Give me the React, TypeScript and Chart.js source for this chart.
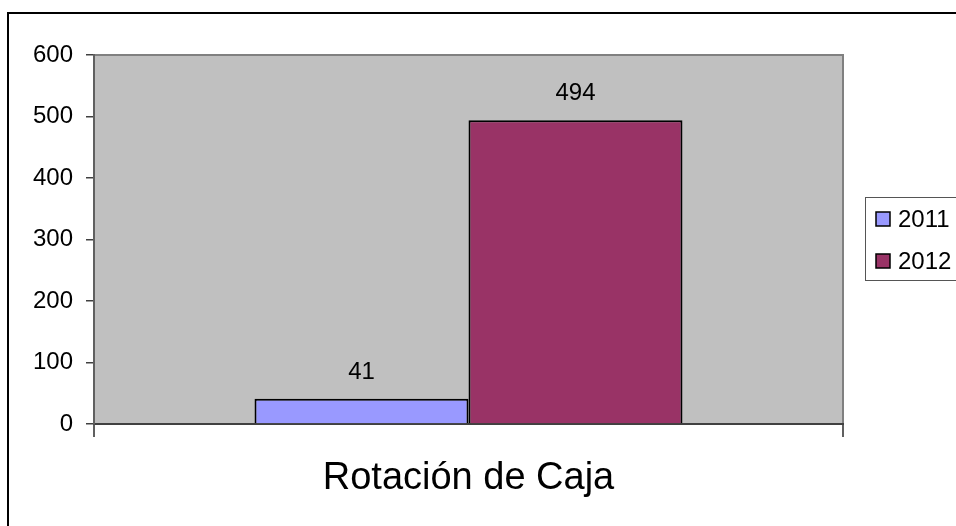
import React, { useEffect, useRef } from "react";
import { Chart, registerables } from "chart.js";

Chart.register(...registerables);

const categories = ["Rotación de Caja"];
const seriesNames = ["2011", "2012"];
const values2011 = [41];
const values2012 = [494];
const seriesColors = ["#9999FF", "#993366"];
const yMin = 0;
const yMax = 600;
const yStep = 100;

const FONT = "'Liberation Sans', Arial, sans-serif";

const decorPlugin = {
  id: "decor",
  beforeDraw(chart: any) {
    const ctx = chart.ctx;
    const a = chart.chartArea;
    ctx.save();
    ctx.fillStyle = "#ffffff";
    ctx.fillRect(0, 0, chart.width, chart.height);
    // outer frame
    ctx.strokeStyle = "#000000";
    ctx.lineWidth = 2;
    ctx.strokeRect(8, 13, 1200, 1200);
    // plot area
    ctx.fillStyle = "#C0C0C0";
    ctx.fillRect(a.left, a.top, a.right - a.left, a.bottom - a.top);
    ctx.strokeStyle = "#808080";
    ctx.lineWidth = 2;
    ctx.strokeRect(a.left, a.top, a.right - a.left, a.bottom - a.top);
    ctx.restore();
  },
  afterDatasetsDraw(chart: any) {
    const ctx = chart.ctx;
    ctx.save();
    ctx.font = `24px ${FONT}`;
    ctx.fillStyle = "#000000";
    ctx.textAlign = "center";
    ctx.textBaseline = "alphabetic";
    chart.data.datasets.forEach((ds: any, i: number) => {
      const meta = chart.getDatasetMeta(i);
      meta.data.forEach((bar: any, j: number) => {
        ctx.fillText(String(ds.data[j]), bar.x, bar.y - 20);
      });
    });
    // legend
    const lx = 865;
    const ly = 197;
    ctx.strokeStyle = "#555555";
    ctx.lineWidth = 1;
    ctx.strokeRect(lx + 0.5, ly + 0.5, 200, 83);
    ctx.textAlign = "left";
    ctx.textBaseline = "middle";
    chart.data.datasets.forEach((ds: any, i: number) => {
      const cy = 219 + i * 42;
      ctx.fillStyle = ds.backgroundColor;
      ctx.fillRect(876, cy - 7, 14, 14);
      ctx.strokeStyle = "#000000";
      ctx.lineWidth = 1.5;
      ctx.strokeRect(876, cy - 7, 14, 14);
      ctx.fillStyle = "#000000";
      ctx.fillText(ds.label, 898, cy + 1);
    });
    ctx.restore();
  },
};

function App() {
  const ref = useRef<HTMLCanvasElement | null>(null);
  useEffect(() => {
    if (!ref.current) return;
    const chart = new Chart(ref.current, {
      type: "bar",
      data: {
        labels: categories,
        datasets: [
          {
            label: seriesNames[0],
            data: values2011,
            backgroundColor: seriesColors[0],
            borderColor: "#000000",
            borderWidth: 2,
            categoryPercentage: 0.5714,
            barPercentage: 1,
          },
          {
            label: seriesNames[1],
            data: values2012,
            backgroundColor: seriesColors[1],
            borderColor: "#000000",
            borderWidth: 2,
            categoryPercentage: 0.5714,
            barPercentage: 1,
          },
        ],
      },
      options: {
        responsive: false,
        animation: false,
        layout: { padding: { left: 0, top: 55, right: 113, bottom: 0 } },
        plugins: {
          legend: { display: false },
          tooltip: { enabled: false },
        },
        scales: {
          x: {
            offset: true,
            grid: {
              display: true,
              offset: true,
              drawOnChartArea: false,
              drawTicks: true,
              tickLength: 13,
              color: "#606060",
              lineWidth: 2,
            },
            border: { display: true, color: "#404040", width: 2 },
            ticks: {
              color: "#000000",
              font: { family: FONT, size: 38 },
              padding: 19,
              maxRotation: 0,
            },
            afterFit: (s: any) => {
              s.height = 102;
            },
          },
          y: {
            min: yMin,
            max: yMax,
            grid: {
              display: true,
              drawOnChartArea: false,
              drawTicks: true,
              tickLength: 8,
              color: "#404040",
              lineWidth: 1.5,
            },
            border: { display: true, color: "#606060", width: 2 },
            ticks: {
              stepSize: yStep,
              color: "#000000",
              font: { family: FONT, size: 24 },
              padding: 13,
            },
            afterFit: (s: any) => {
              s.width = 94;
            },
          },
        },
      },
      plugins: [decorPlugin],
    });
    return () => chart.destroy();
  }, []);
  return (
    <div style={{ position: "fixed", left: 0, top: 0, width: 956, height: 526, overflow: "hidden", background: "#fff" }}>
      <canvas ref={ref} width={956} height={526} style={{ display: "block", width: 956, height: 526 }} />
    </div>
  );
}

export default App;
